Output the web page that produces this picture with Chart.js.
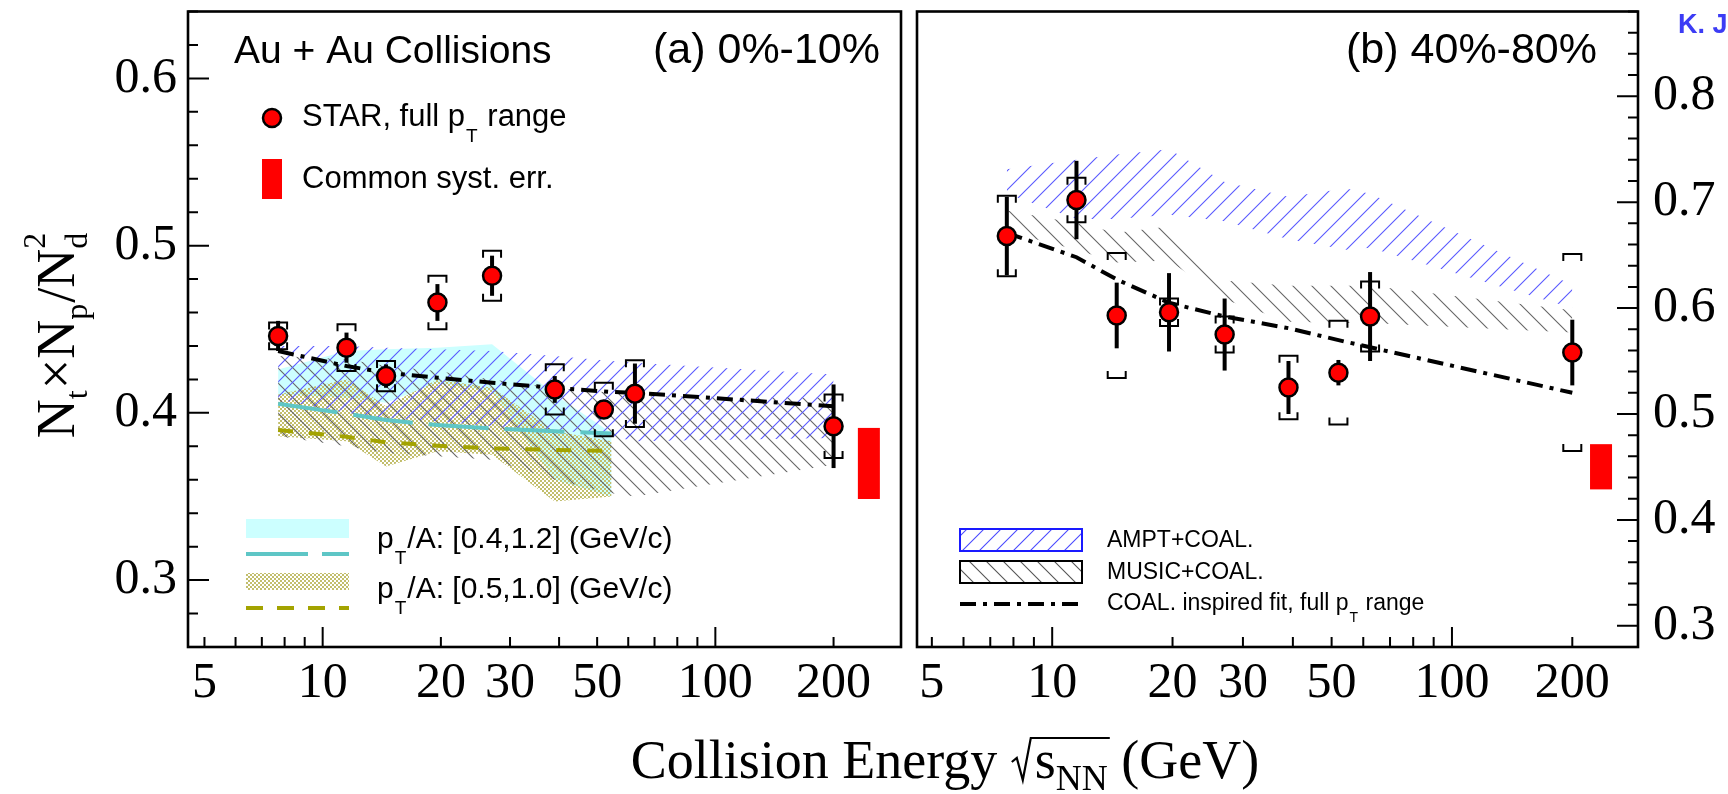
<!DOCTYPE html>
<html>
<head>
<meta charset="utf-8">
<script src="https://cdn.jsdelivr.net/npm/chart.js@4.4.0/dist/chart.umd.min.js"></script>
<style>
  html, body { margin: 0; padding: 0; background: #fff; overflow: hidden; }
  #wrap { position: relative; width: 1728px; height: 794px; }
  canvas { position: absolute; left: 0; top: 0; }
</style>
</head>
<body>
<div id="wrap">
  <canvas id="cA" width="1728" height="794"></canvas>
  <canvas id="cB" width="1728" height="794"></canvas>
</div>
<script>
// energies (GeV) as placed in the figure
const energy = [7.7, 11.5, 14.5, 19.6, 27, 39, 52, 62.4, 200];
const modelEnergy = [7.7, 11.5, 14.5, 19.6, 27, 39, 54.4, 62.4, 200];
const bandEnergy = [7.7, 11.5, 14.5, 19.6, 27, 39, 54.4];
const xTickLabels = [5, 10, 20, 30, 50, 100, 200];
const xMinorTicks = [5, 6, 7, 8, 9, 10, 20, 30, 40, 50, 60, 70, 80, 90, 100, 200];
const yTicksA = [0.3, 0.4, 0.5, 0.6];
const yTicksB = [0.3, 0.4, 0.5, 0.6, 0.7, 0.8];

// (a) 0%-10%
const ratioA = [0.446, 0.439, 0.422, 0.466, 0.482, 0.414, 0.402, 0.4115, 0.392];
const statA  = [0.009, 0.009, 0.007, 0.011, 0.012, 0.008, 0.005, 0.018, 0.025];
const sysA   = [0.008, 0.014, 0.009, 0.016, 0.015, 0.015, 0.016, 0.020, 0.019];
const fitA   = [0.437, 0.428, 0.424, 0.421, 0.418, 0.415, 0.4125, 0.412, 0.404];
const amptHiA  = [0.440, 0.440, 0.439, 0.438, 0.437, 0.434, 0.431, 0.430, 0.423];
const amptLoA  = [0.408, 0.400, 0.397, 0.395, 0.392, 0.390, 0.386, 0.383, 0.385];
const musicHiA = [0.434, 0.432, 0.428, 0.425, 0.420, 0.415, 0.412, 0.410, 0.409];
const musicLoA = [0.386, 0.380, 0.376, 0.374, 0.372, 0.360, 0.352, 0.350, 0.369];
const cyanHi   = [0.426, 0.437, 0.438, 0.439, 0.441, 0.411, 0.388];
const cyanLo   = [0.411, 0.409, 0.406, 0.418, 0.413, 0.360, 0.350];
const cyanMid  = [0.4055, 0.3995, 0.3957, 0.3927, 0.3907, 0.389, 0.3877];
const oliveHi  = [0.411, 0.420, 0.404, 0.420, 0.415, 0.389, 0.383];
const oliveLo  = [0.386, 0.383, 0.368, 0.377, 0.375, 0.347, 0.350];
const oliveMid = [0.3897, 0.3857, 0.3824, 0.3804, 0.3788, 0.3778, 0.3772];
const commonSysA = [0.3485, 0.391];
const commonSysEnergyA = 246;

// (b) 40%-80%
const ratioB = [0.668, 0.702, 0.593, 0.596, 0.575, 0.525, 0.539, 0.592, 0.558];
const statB  = [0.037, 0.037, 0.031, 0.037, 0.034, 0.025, 0.012, 0.042, 0.031];
const sysB   = [0.038, 0.021, 0.059, 0.013, 0.017, 0.030, 0.049, 0.033, 0.093];
const fitB   = [0.671, 0.648, 0.627, 0.605, 0.592, 0.581, 0.568, 0.563, 0.520];
const amptHiB  = [0.731, 0.740, 0.745, 0.750, 0.719, 0.705, 0.713, 0.708, 0.622];
const amptLoB  = [0.708, 0.684, 0.684, 0.688, 0.682, 0.665, 0.655, 0.657, 0.600];
const musicHiB = [0.692, 0.680, 0.671, 0.677, 0.626, 0.621, 0.621, 0.621, 0.598];
const musicLoB = [0.672, 0.655, 0.643, 0.645, 0.608, 0.587, 0.586, 0.586, 0.577];
const commonSysB = [0.4288, 0.4715];
const commonSysEnergyB = 236;

const SANS = '"Liberation Sans", Arial, sans-serif';
const SERIF = '"Liberation Serif", "Times New Roman", serif';
const CYAN = 'rgb(204,255,255)';

const pts = (xs, ys) => xs.map((x, i) => ({ x, y: ys[i] }));

function hatch(ctx, color, dir, size) {
  const c = document.createElement('canvas');
  c.width = c.height = size;
  const g = c.getContext('2d');
  g.strokeStyle = color;
  g.lineWidth = 1.1;
  g.beginPath();
  if (dir > 0) {
    g.moveTo(-2, size + 2); g.lineTo(size + 2, -2);
    g.moveTo(-2, 2); g.lineTo(2, -2);
    g.moveTo(size - 2, size + 2); g.lineTo(size + 2, size - 2);
  } else {
    g.moveTo(-2, -2); g.lineTo(size + 2, size + 2);
    g.moveTo(size - 2, -2); g.lineTo(size + 2, 2);
    g.moveTo(-2, size - 2); g.lineTo(2, size + 2);
  }
  g.stroke();
  return ctx.createPattern(c, 'repeat');
}

function checker(ctx, color, cell) {
  const c = document.createElement('canvas');
  c.width = c.height = cell * 2;
  const g = c.getContext('2d');
  g.fillStyle = color;
  g.fillRect(0, 0, cell, cell);
  g.fillRect(cell, cell, cell, cell);
  return ctx.createPattern(c, 'repeat');
}

// text with subscripts: parts are strings or {sub: '...'}
function rich(ctx, x, y, parts, size, family) {
  ctx.textAlign = 'left';
  ctx.textBaseline = 'alphabetic';
  for (const p of parts) {
    if (typeof p === 'string') {
      ctx.font = `${size}px ${family}`;
      ctx.fillText(p, x, y);
      x += ctx.measureText(p).width;
    } else {
      ctx.font = `${Math.round(size * 0.62)}px ${family}`;
      ctx.fillText(p.sub, x + 1, y + size * 0.52);
      x += ctx.measureText(p.sub).width + 2;
    }
  }
  return x;
}

function dashLine(ctx, x1, x2, y, color, width, dash) {
  ctx.save();
  ctx.strokeStyle = color;
  ctx.lineWidth = width;
  ctx.setLineDash(dash);
  ctx.beginPath(); ctx.moveTo(x1, y); ctx.lineTo(x2, y); ctx.stroke();
  ctx.restore();
}

function drawYTitle(ctx) {
  const big = `54px ${SERIF}`, small = `32px ${SERIF}`;
  const parts = [['N', 0], ['t', 1], ['\u00d7', 0], ['N', 0], ['p', 1], ['/', 0], ['N', 0], ['d', 1, '2']];
  let total = 0;
  for (const p of parts) { ctx.font = p[1] ? small : big; total += ctx.measureText(p[0]).width + (p[1] ? 1 : 0); }
  ctx.save();
  ctx.translate(74, 335);
  ctx.rotate(-Math.PI / 2);
  ctx.fillStyle = '#000';
  ctx.textAlign = 'left';
  ctx.textBaseline = 'alphabetic';
  let x = -total / 2;
  for (const p of parts) {
    if (p[1]) {
      ctx.font = small;
      ctx.fillText(p[0], x, 13);
      if (p[2]) ctx.fillText(p[2], x, -29);
      x += ctx.measureText(p[0]).width + 1;
    } else {
      ctx.font = big;
      ctx.fillText(p[0], x, 0);
      x += ctx.measureText(p[0]).width;
    }
  }
  ctx.restore();
}

function drawXTitle(ctx) {
  const big = `54px ${SERIF}`, small = `36px ${SERIF}`;
  ctx.save();
  ctx.fillStyle = '#000';
  ctx.strokeStyle = '#000';
  ctx.textAlign = 'left';
  ctx.textBaseline = 'alphabetic';
  ctx.font = big;
  const w1 = ctx.measureText('Collision Energy ').width;
  const wS = ctx.measureText('s').width;
  const w3 = ctx.measureText(' (GeV)').width;
  ctx.font = small;
  const wNN = ctx.measureText('NN').width;
  const rad = 24;
  const total = w1 + rad + wS + wNN + w3;
  let x = 945 - total / 2;
  const yb = 778;
  ctx.font = big;
  ctx.fillText('Collision Energy ', x, yb);
  x += w1;
  ctx.lineWidth = 2.2;
  ctx.beginPath();
  ctx.moveTo(x + 1, yb - 16); ctx.lineTo(x + 6, yb - 20); ctx.lineTo(x + 12, yb + 2);
  ctx.lineTo(x + 20, yb - 40); ctx.lineTo(x + rad + wS + wNN + 2, yb - 40);
  ctx.stroke();
  x += rad;
  ctx.fillText('s', x, yb);
  x += wS;
  ctx.font = small;
  ctx.fillText('NN', x, yb + 12);
  x += wNN;
  ctx.font = big;
  ctx.fillText(' (GeV)', x, yb);
  ctx.restore();
}

function decor(panel) {
  const A = panel === 'A';
  const P = A
    ? { v: ratioA, st: statA, sy: sysA, cs: commonSysA, ce: commonSysEnergyA, yt: yTicksA }
    : { v: ratioB, st: statB, sy: sysB, cs: commonSysB, ce: commonSysEnergyB, yt: yTicksB };
  return {
    id: 'decor' + panel,
    beforeDatasetDraw(chart, args) {
      if (chart.data.datasets[args.index].label !== 'STAR') return;
      const { ctx, scales: { x, y } } = chart;
      ctx.save();
      const bx = x.getPixelForValue(P.ce);
      const t = y.getPixelForValue(P.cs[1]), b = y.getPixelForValue(P.cs[0]);
      ctx.fillStyle = '#ff0000';
      ctx.fillRect(bx - 11, t, 22, b - t);
      ctx.strokeStyle = '#000';
      energy.forEach((e, i) => {
        const px = x.getPixelForValue(e);
        ctx.lineWidth = 4;
        ctx.beginPath();
        ctx.moveTo(px, y.getPixelForValue(P.v[i] + P.st[i]));
        ctx.lineTo(px, y.getPixelForValue(P.v[i] - P.st[i]));
        ctx.stroke();
        const sHi = y.getPixelForValue(P.v[i] + P.sy[i]);
        const sLo = y.getPixelForValue(P.v[i] - P.sy[i]);
        ctx.lineWidth = 2;
        ctx.beginPath();
        ctx.moveTo(px - 9, sHi + 7); ctx.lineTo(px - 9, sHi); ctx.lineTo(px + 9, sHi); ctx.lineTo(px + 9, sHi + 7);
        ctx.moveTo(px - 9, sLo - 7); ctx.lineTo(px - 9, sLo); ctx.lineTo(px + 9, sLo); ctx.lineTo(px + 9, sLo - 7);
        ctx.stroke();
      });
      ctx.restore();
    },
    afterDraw(chart) {
      const { ctx, chartArea: ca, scales: { x, y } } = chart;
      ctx.save();
      // frame
      ctx.strokeStyle = '#000';
      ctx.lineWidth = 2.6;
      ctx.strokeRect(ca.left, ca.top, ca.right - ca.left, ca.bottom - ca.top);
      // inward ticks
      ctx.lineWidth = 2;
      ctx.beginPath();
      xMinorTicks.forEach(v => {
        if (v < x.min || v > x.max) return;
        const px = x.getPixelForValue(v);
        const len = (v === 10 || v === 100) ? 20 : 10;
        ctx.moveTo(px, ca.bottom); ctx.lineTo(px, ca.bottom - len);
      });
      for (let k = Math.ceil(y.min * 50 - 1e-6); k <= Math.floor(y.max * 50 + 1e-6); k++) {
        const v = k / 50;
        const py = y.getPixelForValue(v);
        const len = P.yt.some(t => Math.abs(t - v) < 1e-6) ? 21 : 10;
        if (A) { ctx.moveTo(ca.left, py); ctx.lineTo(ca.left + len, py); }
        else { ctx.moveTo(ca.right, py); ctx.lineTo(ca.right - len, py); }
      }
      ctx.stroke();
      ctx.fillStyle = '#000';
      ctx.textBaseline = 'alphabetic';
      if (A) {
        ctx.font = `39px ${SANS}`; ctx.textAlign = 'left';
        ctx.fillText('Au + Au Collisions', 234, 63);
        ctx.font = `43px ${SANS}`; ctx.textAlign = 'right';
        ctx.fillText('(a) 0%-10%', 880, 63);
        // legend: data + common syst
        ctx.beginPath(); ctx.arc(272, 118, 9, 0, 2 * Math.PI);
        ctx.fillStyle = '#ff0000'; ctx.fill();
        ctx.lineWidth = 2.5; ctx.strokeStyle = '#000'; ctx.stroke();
        ctx.fillStyle = '#000';
        rich(ctx, 302, 126, ['STAR, full p', { sub: 'T' }, ' range'], 31, SANS);
        ctx.fillStyle = '#ff0000'; ctx.fillRect(262, 159, 20, 40);
        ctx.fillStyle = '#000'; ctx.font = `31px ${SANS}`; ctx.textAlign = 'left';
        ctx.fillText('Common syst. err.', 302, 188);
        // legend: pT windows
        ctx.fillStyle = CYAN; ctx.fillRect(246, 519, 103, 19);
        dashLine(ctx, 246, 349, 554, '#5ec6c6', 4, [62, 14]);
        ctx.fillStyle = checker(ctx, '#c2be6c', 2); ctx.fillRect(246, 573, 103, 17);
        dashLine(ctx, 246, 349, 608, '#a3a300', 4, [17, 14]);
        ctx.fillStyle = '#000';
        rich(ctx, 377, 548, ['p', { sub: 'T' }, '/A: [0.4,1.2] (GeV/c)'], 30, SANS);
        rich(ctx, 377, 598, ['p', { sub: 'T' }, '/A: [0.5,1.0] (GeV/c)'], 30, SANS);
        drawYTitle(ctx);
        drawXTitle(ctx);
      } else {
        ctx.font = `43px ${SANS}`; ctx.textAlign = 'right';
        ctx.fillText('(b) 40%-80%', 1597, 63);
        ctx.fillStyle = hatch(ctx, '#4a4aff', 1, 17); ctx.fillRect(960, 529, 122, 22);
        ctx.strokeStyle = '#1a1aff'; ctx.lineWidth = 2; ctx.strokeRect(960, 529, 122, 22);
        ctx.fillStyle = hatch(ctx, '#555', -1, 17); ctx.fillRect(960, 561, 122, 22);
        ctx.strokeStyle = '#000'; ctx.strokeRect(960, 561, 122, 22);
        dashLine(ctx, 960, 1082, 604, '#000', 4, [16, 7, 4, 7]);
        ctx.fillStyle = '#000'; ctx.font = `23px ${SANS}`; ctx.textAlign = 'left';
        ctx.fillText('AMPT+COAL.', 1107, 547);
        ctx.fillText('MUSIC+COAL.', 1107, 579);
        rich(ctx, 1107, 610, ['COAL. inspired fit, full p', { sub: 'T' }, ' range'], 23, SANS);
        ctx.fillStyle = '#3c3cf5'; ctx.font = `bold 27px ${SANS}`; ctx.textAlign = 'left';
        ctx.fillText('K. J', 1678, 33);
      }
      ctx.restore();
    }
  };
}

function bandPair(xs, hi, lo, fillStyle, order) {
  return [
    { label: 'hi', data: pts(xs, hi), borderColor: 'transparent', borderWidth: 0, pointRadius: 0,
      fill: { target: '+1' }, backgroundColor: fillStyle, order },
    { label: 'lo', data: pts(xs, lo), borderColor: 'transparent', borderWidth: 0, pointRadius: 0,
      fill: false, order }
  ];
}

function starSet(vals) {
  return { label: 'STAR', data: pts(energy, vals), showLine: false, pointRadius: 9,
    pointBackgroundColor: '#ff0000', pointBorderColor: '#000', pointBorderWidth: 2.5, order: 0 };
}

function fitSet(vals) {
  return { label: 'fit', data: pts(modelEnergy, vals), borderColor: '#000', borderWidth: 4,
    borderDash: [16, 7, 4, 7], pointRadius: 0, fill: false, order: 1 };
}

function makeOptions(panel) {
  const A = panel === 'A';
  return {
    responsive: false,
    animation: false,
    events: [],
    layout: { padding: A ? { left: 0, right: 1728 - 901, top: 8, bottom: 0 } : { left: 917, right: 0, top: 8, bottom: 0 } },
    plugins: { legend: { display: false }, tooltip: { enabled: false } },
    scales: {
      x: {
        type: 'logarithmic',
        min: A ? 4.54 : 4.59,
        max: A ? 297 : 292,
        position: 'bottom',
        grid: { display: false, drawTicks: false },
        border: { display: false },
        afterBuildTicks: s => { s.ticks = xTickLabels.map(v => ({ value: v })); },
        afterFit: s => { s.height = 147; s.paddingLeft = 0; s.paddingRight = 0; },
        ticks: { autoSkip: false, maxRotation: 0, padding: 7, color: '#000',
          font: { family: SERIF, size: 50 }, callback: v => String(v) }
      },
      y: {
        type: 'linear',
        min: A ? 0.26 : 0.28,
        max: A ? 0.64 : 0.88,
        position: A ? 'left' : 'right',
        grid: { display: false, drawTicks: false },
        border: { display: false },
        afterBuildTicks: s => { s.ticks = (A ? yTicksA : yTicksB).map(v => ({ value: v })); },
        afterFit: s => { s.width = A ? 188 : 90; s.paddingTop = 0; s.paddingBottom = 0; },
        ticks: { padding: A ? 11 : 15, color: '#000', font: { family: SERIF, size: 50 },
          callback: v => Number(v).toFixed(1) }
      }
    }
  };
}

const ctxA = document.getElementById('cA').getContext('2d');
const ctxB = document.getElementById('cB').getContext('2d');

new Chart(ctxA, {
  type: 'line',
  data: {
    datasets: [
      starSet(ratioA),
      fitSet(fitA),
      { label: 'cyanMid', data: pts(bandEnergy, cyanMid), borderColor: '#5ec6c6', borderWidth: 4,
        borderDash: [60, 16], pointRadius: 0, fill: false, order: 3 },
      { label: 'oliveMid', data: pts(bandEnergy, oliveMid), borderColor: '#a3a300', borderWidth: 4,
        borderDash: [15, 16], pointRadius: 0, fill: false, order: 3 },
      ...bandPair(modelEnergy, amptHiA, amptLoA, hatch(ctxA, '#5a5aff', 1, 15), 4),
      ...bandPair(modelEnergy, musicHiA, musicLoA, hatch(ctxA, '#666', -1, 15), 5),
      ...bandPair(bandEnergy, oliveHi, oliveLo, checker(ctxA, '#c2be6c', 2), 6),
      ...bandPair(bandEnergy, cyanHi, cyanLo, CYAN, 7)
    ]
  },
  options: makeOptions('A'),
  plugins: [decor('A')]
});

new Chart(ctxB, {
  type: 'line',
  data: {
    datasets: [
      starSet(ratioB),
      fitSet(fitB),
      ...bandPair(modelEnergy, amptHiB, amptLoB, hatch(ctxB, '#5a5aff', 1, 19), 4),
      ...bandPair(modelEnergy, musicHiB, musicLoB, hatch(ctxB, '#666', -1, 19), 5)
    ]
  },
  options: makeOptions('B'),
  plugins: [decor('B')]
});
</script>
</body>
</html>
